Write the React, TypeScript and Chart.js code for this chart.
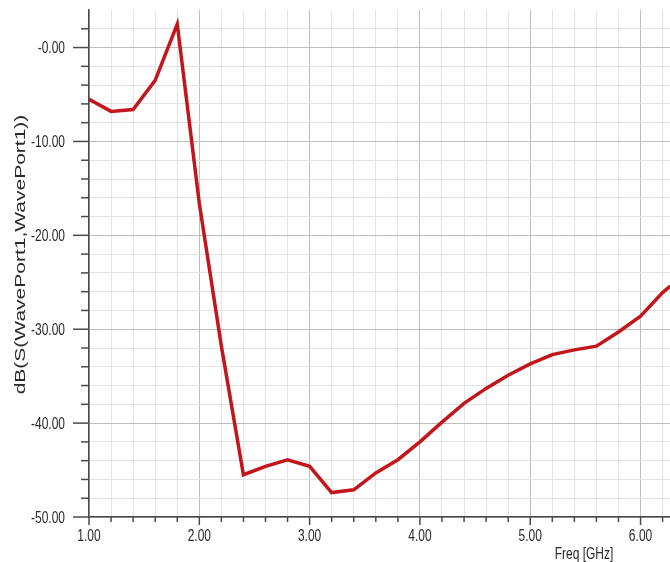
import React, { useEffect, useRef } from "react";
import { Chart, registerables } from "chart.js";

Chart.register(...registerables);

// Frequency (GHz) and S11 (dB)
const FREQ = [1.0, 1.2, 1.4, 1.6, 1.8, 2.0, 2.2, 2.4, 2.6, 2.8, 3.0, 3.2, 3.4, 3.6, 3.8, 4.0, 4.2, 4.4, 4.6, 4.8, 5.0, 5.2, 5.4, 5.6, 5.8, 6.0, 6.2, 6.27];
const S11 = [-5.5, -6.8, -6.6, -3.5, 2.5, -16.6, -31.8, -45.5, -44.6, -43.9, -44.6, -47.4, -47.1, -45.3, -43.9, -42.0, -39.9, -37.9, -36.3, -34.9, -33.7, -32.7, -32.2, -31.8, -30.3, -28.6, -26.1, -25.4];

const X_MAJOR = [1, 2, 3, 4, 5, 6];
const X_LABELS = ["1.00", "2.00", "3.00", "4.00", "5.00", "6.00"];
const Y_MAJOR = [0, -10, -20, -30, -40, -50];
const Y_LABELS = ["-0.00", "-10.00", "-20.00", "-30.00", "-40.00", "-50.00"];

const X_MIN = 1;
const X_MAX = 6.267;
const X_STEP = 0.2;
const Y_MIN = -50;
const Y_MAX = 4;
const Y_STEP = 2;

const X_TITLE = "Freq [GHz]";
const Y_TITLE = "dB(S(WavePort1,WavePort1))";

const FONT = "'Liberation Sans', Arial, sans-serif";
const GRID_MAJOR = "#bdbdbd";
const GRID_MINOR = "#e3e3e3";
const AXIS = "#4a4a4a";
const TEXT = "#2a2a2a";

const near = (a: number, b: number) => Math.abs(a - b) < 1e-6;
const isXMajor = (v: number) => X_MAJOR.some((m) => near(m, v));
const isYMajor = (v: number) => Y_MAJOR.some((m) => near(m, v));

const axisPlugin = {
  id: "hfssAxes",
  afterDraw(chart: any) {
    const ctx = chart.ctx;
    const xs = chart.scales.x;
    const ys = chart.scales.y;
    const area = chart.chartArea;
    ctx.save();
    ctx.strokeStyle = AXIS;
    ctx.lineWidth = 1.5;
    // y ticks
    ys.ticks.forEach((t: any) => {
      const y = ys.getPixelForValue(t.value);
      const len = isYMajor(t.value) ? 16 : 8;
      ctx.beginPath();
      ctx.moveTo(area.left - len, y);
      ctx.lineTo(area.left, y);
      ctx.stroke();
    });
    // x ticks
    xs.ticks.forEach((t: any) => {
      const x = xs.getPixelForValue(t.value);
      const len = isXMajor(t.value) ? 8 : 5;
      ctx.beginPath();
      ctx.moveTo(x, area.bottom);
      ctx.lineTo(x, area.bottom + len);
      ctx.stroke();
    });
    ctx.fillStyle = TEXT;
    ctx.font = `12px ${FONT}`;
    // y labels
    Y_MAJOR.forEach((v, i) => {
      const y = ys.getPixelForValue(v);
      ctx.save();
      ctx.translate(area.left - 24, y + 1);
      ctx.scale(1, 1.45);
      ctx.textAlign = "right";
      ctx.textBaseline = "middle";
      ctx.fillText(Y_LABELS[i], 0, 0);
      ctx.restore();
    });
    // x labels
    X_MAJOR.forEach((v, i) => {
      const x = xs.getPixelForValue(v);
      ctx.save();
      ctx.translate(x, area.bottom + 19);
      ctx.scale(1, 1.45);
      ctx.textAlign = "center";
      ctx.textBaseline = "middle";
      ctx.fillText(X_LABELS[i], 0, 0);
      ctx.restore();
    });
    // x title
    ctx.save();
    ctx.translate(584, 554);
    ctx.scale(1, 1.45);
    ctx.textAlign = "center";
    ctx.textBaseline = "middle";
    ctx.fillText(X_TITLE, 0, 0);
    ctx.restore();
    // y title
    ctx.save();
    ctx.font = `14px ${FONT}`;
    ctx.translate(21, (area.top + area.bottom) / 2 - 9);
    ctx.rotate(-Math.PI / 2);
    ctx.scale(1.5, 1);
    ctx.textAlign = "center";
    ctx.textBaseline = "middle";
    ctx.fillText(Y_TITLE, 0, 0);
    ctx.restore();
    ctx.restore();
  },
};

export default function App() {
  const ref = useRef<HTMLCanvasElement | null>(null);
  useEffect(() => {
    if (!ref.current) return;
    const chart = new Chart(ref.current, {
      type: "line",
      data: {
        datasets: [
          {
            data: FREQ.map((f, i) => ({ x: f, y: S11[i] })),
            borderColor: "#c2161c",
            borderWidth: 3.5,
            pointRadius: 0,
            tension: 0,
            fill: false,
          },
        ],
      },
      options: {
        animation: false,
        responsive: false,
        devicePixelRatio: 1,
        layout: { padding: { top: 10, right: 0, left: 0, bottom: 0 } },
        plugins: { legend: { display: false }, tooltip: { enabled: false } },
        scales: {
          x: {
            type: "linear",
            min: X_MIN,
            max: X_MAX,
            ticks: { display: false, stepSize: X_STEP },
            afterBuildTicks: (scale: any) => {
              const out: any[] = [];
              for (let i = 0; X_MIN + i * X_STEP <= X_MAX + 1e-9; i++) {
                out.push({ value: Math.round((X_MIN + i * X_STEP) * 1000) / 1000 });
              }
              scale.ticks = out;
            },
            afterFit: (scale: any) => {
              scale.height = 45;
            },
            grid: {
              drawTicks: false,
              color: (c: any) => (c.tick && isXMajor(c.tick.value) ? GRID_MAJOR : GRID_MINOR),
              lineWidth: 1,
            },
            border: { display: true, color: AXIS, width: 1.5 },
          },
          y: {
            type: "linear",
            min: Y_MIN,
            max: Y_MAX,
            ticks: { display: false, stepSize: Y_STEP },
            afterBuildTicks: (scale: any) => {
              const out: any[] = [];
              for (let v = Y_MIN; v <= Y_MAX - Y_STEP + 1e-9; v += Y_STEP) {
                out.push({ value: v });
              }
              scale.ticks = out;
            },
            afterFit: (scale: any) => {
              scale.width = 89;
            },
            grid: {
              drawTicks: false,
              color: (c: any) => (c.tick && isYMajor(c.tick.value) ? GRID_MAJOR : GRID_MINOR),
              lineWidth: 1,
            },
            border: { display: true, color: AXIS, width: 1.5 },
          },
        },
      },
      plugins: [axisPlugin],
    } as any);
    return () => chart.destroy();
  }, []);
  return (
    <div style={{ position: "fixed", left: 0, top: 0, width: 670, height: 562, background: "#fff" }}>
      <canvas ref={ref} width={670} height={562} style={{ display: "block", width: 670, height: 562 }} />
    </div>
  );
}
